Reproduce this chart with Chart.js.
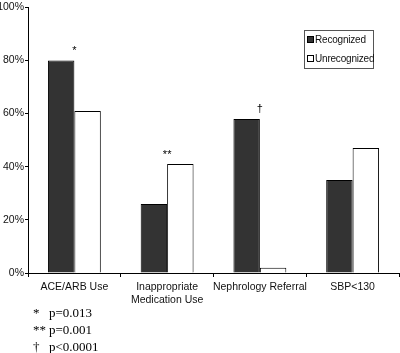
<!DOCTYPE html>
<html>
<head>
<meta charset="utf-8">
<script src="https://cdn.jsdelivr.net/npm/chart.js@4/dist/chart.umd.min.js"></script>
<style>
  body { margin:0; background:#fff; }
  #wrap { position:relative; width:400px; height:353px; overflow:hidden; }
  #legend { position:absolute; left:304px; top:30px; width:68px; height:37px; border:1px solid #555;
    background:#fff; font:10px "Liberation Sans", Arial, sans-serif; color:#111; letter-spacing:-0.2px; }
  #legend div { position:absolute; left:2px; white-space:nowrap; }
  #legend span { display:inline-block; width:5px; height:5px; border:1px solid #000; margin-right:1px; vertical-align:0px; }
  #notes { position:absolute; left:33px; top:304px; font:13px "Liberation Serif", "Times New Roman", serif; color:#000; line-height:17px; }
  #notes b { font-weight:normal; color:#000; display:inline-block; width:16px; }
</style>
</head>
<body>
<div id="wrap">
  <canvas id="myChart" width="400" height="305" style="position:absolute;left:0;top:0"></canvas>
  <div id="legend">
    <div style="top:3px"><span style="background:#333"></span>Recognized</div>
    <div style="top:22px"><span style="background:#fff"></span>Unrecognized</div>
  </div>
  <div id="notes">
    <div><b>*</b>p=0.013</div>
    <div><b>**</b>p=0.001</div>
    <div><b>†</b>p&lt;0.0001</div>
  </div>
</div>
<script>
//データ
var categories = ["ACE/ARB Use", ["Inappropriate", "Medication Use"], "Nephrology Referral", "SBP<130"];
var recognized = [80, 26, 58, 35];
var unrecognized = [61, 41, 2, 47];
var marks = ["*", "**", "†", ""];   //有意差マーク
var yTicks = [0, 20, 40, 60, 80, 100];

//マークを描くプラグイン (2本のバーの境目の上)
var markPlugin = {
  id: "marks",
  afterDatasetsDraw: function(chart) {
    var ctx = chart.ctx;
    var m0 = chart.getDatasetMeta(0);
    var m1 = chart.getDatasetMeta(1);
    ctx.save();
    ctx.fillStyle = "#000";
    ctx.font = "11px 'Liberation Sans', Arial, sans-serif";
    ctx.textAlign = "center";
    ctx.textBaseline = "bottom";
    for (var i = 0; i < marks.length; i++) {
      if (!marks[i]) continue;
      var a = m0.data[i], b = m1.data[i];
      var x = a.x + a.width / 2;
      var top = Math.min(a.y, b.y);
      ctx.fillText(marks[i], x, top - 4);
    }
    ctx.restore();
  }
};

var ctx = document.getElementById("myChart").getContext("2d");
var myChart = new Chart(ctx, {
  type: "bar",
  data: {
    labels: categories,
    datasets: [
      { label: "Recognized", data: recognized, backgroundColor: "#333333", borderColor: "#000", borderWidth: 1 },
      { label: "Unrecognized", data: unrecognized, backgroundColor: "#ffffff", borderColor: "#000", borderWidth: 1 }
    ]
  },
  options: {
    responsive: false,
    animation: false,
    layout: { padding: { top: 4, right: 1, left: 0, bottom: 0 } },
    plugins: { legend: { display: false }, tooltip: { enabled: false } },
    datasets: { bar: { categoryPercentage: 0.57, barPercentage: 1.0 } },
    scales: {
      x: {
        grid: { drawOnChartArea: false, color: "#000", tickLength: 4, offset: true },
        border: { color: "#000", width: 1 },
        ticks: { color: "#111", font: { size: 10.5, family: "'Liberation Sans', Arial, sans-serif" }, maxRotation: 0, autoSkip: false, padding: 4 },
        afterFit: function(s) { s.height = 32; }
      },
      y: {
        min: 0, max: 100,
        afterBuildTicks: function(s) { s.ticks = yTicks.map(function(v) { return { value: v }; }); },
        grid: { drawOnChartArea: false, color: "#000", tickLength: 3 },
        border: { color: "#000", width: 1 },
        ticks: { color: "#111", padding: 1, font: { size: 10.5, family: "'Liberation Sans', Arial, sans-serif" },
          callback: function(v) { return v + "%"; } },
        afterFit: function(s) { s.width = 28; }
      }
    }
  },
  plugins: [markPlugin]
});
</script>
</body>
</html>
